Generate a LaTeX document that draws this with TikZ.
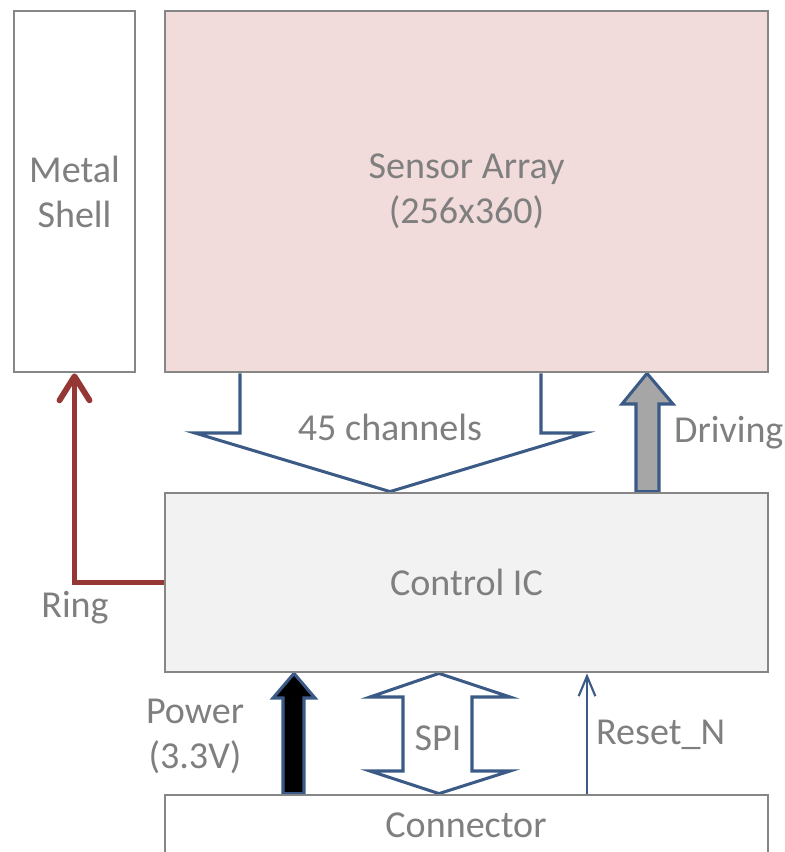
\documentclass[tikz,border=0pt]{standalone}
\usepackage{fontspec}
\setmainfont{Carlito}
\usetikzlibrary{arrows.meta,fit,backgrounds}
\definecolor{boxln}{HTML}{868686}
\definecolor{txtc}{HTML}{7F7F7F}
\definecolor{sensc}{HTML}{F2DCDB}
\definecolor{ctrlc}{HTML}{F2F2F2}
\definecolor{arrln}{HTML}{3B5A86}
\definecolor{ringc}{HTML}{953735}
\definecolor{drvc}{HTML}{A6A6A6}

\begin{document}
\begin{tikzpicture}[x=0.03cm,y=-0.03cm,
    box/.style={draw=boxln,line width=2.4pt,inner sep=0pt},
    lbl/.style={text=txtc,font=\fontsize{32.5}{38.5}\selectfont,align=center},
    blkarr/.style={draw=arrln,line width=2.6pt,line join=miter},
    ringln/.style={draw=ringc,line width=5pt,line join=miter,
      -{Straight Barb[length=0.72cm,width=0.9cm,round]}},
    resetln/.style={draw=arrln,line width=1.8pt,
      -{Straight Barb[length=0.6cm,width=0.5cm]}}]
    \useasboundingbox (0,0) rectangle (784,852);
    % blocks
    \node[box,fill=white,fit={(14,11) (135,372)}] (shell) {};
    \node[box,fill=sensc,fit={(165,11) (768,372)}] (sensor) {};
    \node[box,fill=ctrlc,fit={(165,493) (768,672)}] (ctrl) {};
    \node[box,fill=white,fit={(165,795) (768,900)}] (conn) {};
    \node[lbl] (shelltxt) at (shell.center) {Metal\\Shell};
    \node[lbl] (sensortxt) at (sensor.center) {Sensor Array\\(256x360)};
    \node[lbl] (ctrltxt) at (ctrl.center) {Control IC};
    \node[lbl] (conntxt) at (466,825) {Connector};

    \begin{scope}[on background layer]
      % read-out bus
      \draw[blkarr] (240,0 |- sensor.south) -- (240,433) -- (195,433) -- (390,0 |- ctrl.north)
        -- (585,433) -- (541,433) -- (541,0 |- sensor.south);
      % row drivers
      \draw[blkarr,fill=drvc] (636,0 |- ctrl.north) -- (636,404) -- (622,404) -- (647,0 |- sensor.south)
        -- (673,404) -- (659,404) -- (659,0 |- ctrl.north) -- cycle;
      % supply
      \draw[blkarr,fill=black] (283,0 |- conn.north) -- (283,698) -- (273,698) -- (294,0 |- ctrl.south)
        -- (315,698) -- (304,698) -- (304,0 |- conn.north) -- cycle;
      % spi link
      \draw[blkarr] (439,0 |- ctrl.south) -- (510,697) -- (472,697) -- (472,771) -- (510,771)
        -- (439,0 |- conn.north) -- (370,771) -- (403,771) -- (403,697) -- (370,697) -- cycle;
      \draw[resetln] (587,0 |- conn.north) -- (587,0 |- ctrl.south);
      \draw[ringln] (ctrl.west) -| (shell.south);
    \end{scope}

    \node[lbl] (chtxt) at (390,427) {45 channels};
    \node[lbl,anchor=west] (drvtxt) at (670,433) {Driving};
    \node[lbl] (ringtxt) at (75,608) {Ring};
    \node[lbl] (pwrtxt) at (195,736) {Power\\(3.3V)};
    \node[lbl] (spitxt) at (438,738) {SPI};
    \node[lbl,anchor=west] (rsttxt) at (592,735) {Reset\_N};
\end{tikzpicture}
\end{document}
